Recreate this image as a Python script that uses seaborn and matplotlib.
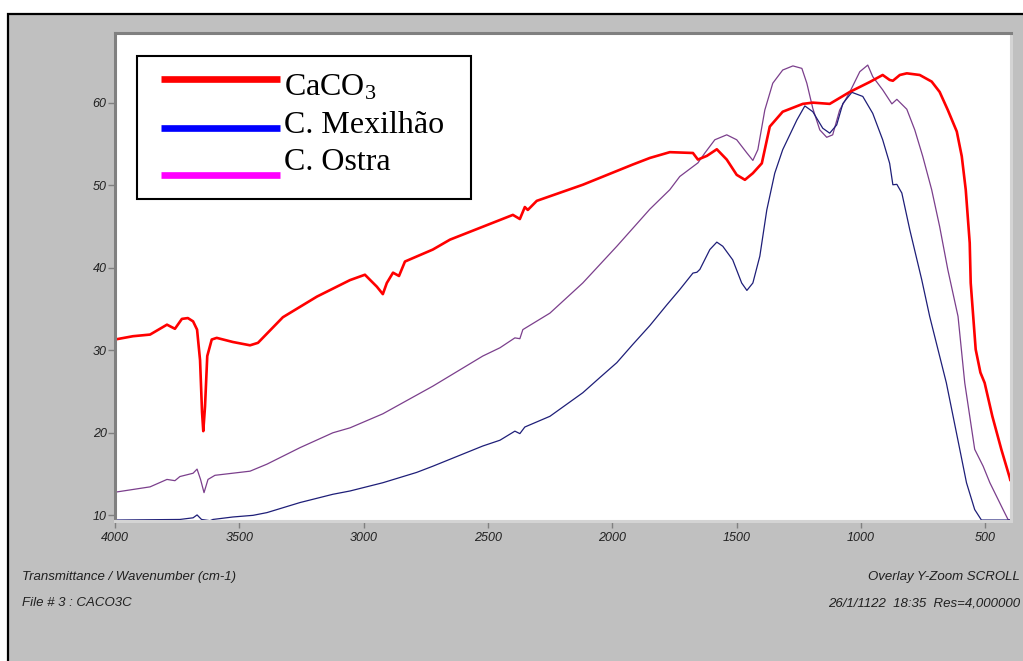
import matplotlib
matplotlib.use('Agg')
import matplotlib.pyplot as plt
import seaborn as sns
import pandas as pd
from matplotlib.lines import Line2D
from matplotlib.patches import Rectangle

# FTIR spectra (wavenumber cm-1, transmittance)
caco3_wn = [4000, 3928, 3859, 3791, 3759, 3731, 3707, 3686, 3670, 3658, 3650, 3645, 3638,
            3629, 3611, 3591, 3526, 3457, 3425, 3325, 3188, 3055, 2995, 2947, 2923, 2907,
            2882, 2858, 2834, 2722, 2653, 2400, 2372, 2352, 2340, 2304, 2119, 1918, 1849,
            1769, 1676, 1656, 1620, 1580, 1540, 1500, 1467, 1435, 1399, 1367, 1315, 1234,
            1194, 1126, 1045, 965, 913, 885, 872, 844, 816, 764, 716, 684, 651, 615, 595,
            579, 563, 559, 539, 520, 503, 472, 436, 402, 400]
caco3_t = [31.3, 31.7, 31.9, 33.1, 32.6, 33.8, 33.9, 33.5, 32.5, 28.8, 22.5, 20.2, 23.2,
           29.3, 31.3, 31.5, 31.0, 30.6, 30.9, 34.0, 36.5, 38.5, 39.15, 37.7, 36.8, 38.15,
           39.4, 39.0, 40.75, 42.2, 43.4, 46.4, 45.9, 47.35, 47.0, 48.1, 50.05, 52.5, 53.3,
           54.0, 53.9, 53.1, 53.55, 54.35, 53.1, 51.25, 50.65, 51.45, 52.65, 57.1, 58.9, 59.85,
           60.0, 59.85, 61.3, 62.5, 63.35, 62.75, 62.65, 63.35, 63.55, 63.35, 62.55, 61.3, 59.1,
           56.5, 53.5, 49.45, 43.0, 38.15, 30.1, 27.3, 26.05, 22.0, 18.0, 14.55, 14.3]

mexilhao_wn = [4000, 3739, 3686, 3670, 3652, 3618, 3606, 3526, 3445, 3389, 3256, 3124, 3055,
               2923, 2787, 2722, 2521, 2452, 2392, 2372, 2352, 2251, 2119, 2050, 1982, 1918,
               1849, 1781, 1729, 1676, 1660, 1648, 1608, 1580, 1556, 1516, 1480, 1459, 1435,
               1407, 1379, 1347, 1315, 1258, 1226, 1194, 1154, 1126, 1098, 1073, 1037, 993,
               953, 913, 885, 872, 856, 836, 804, 756, 724, 657, 603, 576, 543, 516, 400]
mexilhao_t = [9.43, 9.5, 9.7, 10.05, 9.5, 9.35, 9.5, 9.8, 10.0, 10.33, 11.55, 12.55, 12.95,
              13.95, 15.2, 15.95, 18.4, 19.1, 20.2, 19.9, 20.7, 22.0, 24.85, 26.7, 28.5, 30.7,
              33.0, 35.5, 37.35, 39.35, 39.45, 39.8, 42.2, 43.1, 42.6, 40.95, 38.15, 37.25, 38.15,
              41.4, 47.0, 51.45, 54.3, 57.9, 59.6, 58.9, 56.9, 56.3, 57.3, 59.9, 61.25, 60.75,
              58.7, 55.5, 52.65, 50.05, 50.1, 49.05, 44.6, 38.55, 34.1, 26.05, 18.0, 13.95, 10.7,
              9.43, 9.43]

ostra_wn = [4000, 3859, 3791, 3759, 3739, 3686, 3670, 3656, 3642, 3626, 3598, 3457, 3389,
            3256, 3124, 3055, 2923, 2722, 2521, 2452, 2392, 2372, 2360, 2251, 2119, 1982,
            1849, 1769, 1729, 1676, 1656, 1628, 1588, 1540, 1500, 1459, 1435, 1415, 1387,
            1355, 1315, 1274, 1238, 1218, 1194, 1166, 1138, 1114, 1086, 1045, 1005, 973,
            953, 913, 876, 856, 816, 784, 752, 716, 684, 651, 610, 583, 543, 509, 482, 429,
            409, 400]
ostra_t = [12.8, 13.45, 14.35, 14.2, 14.7, 15.1, 15.6, 14.35, 12.75, 14.35, 14.85, 15.35, 16.2,
           18.2, 20.0, 20.6, 22.3, 25.65, 29.3, 30.3, 31.5, 31.4, 32.5, 34.5, 38.15, 42.6,
           47.1, 49.45, 51.05, 52.25, 52.7, 53.9, 55.5, 56.1, 55.5, 53.9, 53.0, 54.3, 59.1,
           62.35, 63.95, 64.45, 64.15, 62.35, 59.3, 56.7, 55.8, 56.1, 59.1, 61.3, 63.75, 64.55,
           63.15, 61.55, 59.85, 60.4, 59.2, 56.7, 53.5, 49.45, 45.0, 39.75, 34.1, 26.05, 18.0,
           15.95, 13.95, 10.7, 9.5, 9.45]

y_ticks = [10, 20, 30, 40, 50, 60]
x_ticks = [4000, 3500, 3000, 2500, 2000, 1500, 1000, 500]

plt.rcParams['mathtext.fontset'] = 'custom'
plt.rcParams['mathtext.rm'] = 'Liberation Serif'
plt.rcParams['mathtext.it'] = 'Liberation Serif:italic'

W, H = 1023, 661
fig = plt.figure(figsize=(W / 100, H / 100), dpi=100, facecolor='white')

# grey panel with black frame
fig.add_artist(Rectangle((8 / W, -0.1), 1.2, 1 - 13.5 / H + 0.1, transform=fig.transFigure,
                         facecolor='#c0c0c0', edgecolor='black', linewidth=1.6, zorder=0))

ax = fig.add_axes([115 / W, 1 - 520.7 / H, 896 / W, 487.4 / H])
ax.set_facecolor('white')

sns.lineplot(x=ostra_wn, y=ostra_t, ax=ax, color='#7b3f8c', linewidth=0.9,
             estimator=None, sort=False)
sns.lineplot(x=mexilhao_wn, y=mexilhao_t, ax=ax, color='#1e1e78', linewidth=0.9,
             estimator=None, sort=False)
sns.lineplot(x=caco3_wn, y=caco3_t, ax=ax, color='#ff0000', linewidth=1.9,
             estimator=None, sort=False)

ax.set_xlim(4000, 397)
ax.set_ylim(9.35, 68.4)
ax.set_xticks(x_ticks)
ax.set_yticks(y_ticks)
ax.set_xticklabels([str(v) for v in x_ticks], fontstyle='italic', family='Liberation Sans', fontsize=9)
ax.set_yticklabels([str(v) for v in y_ticks], fontstyle='italic', family='Liberation Sans', fontsize=9)
ax.tick_params(axis='both', color='#808080', length=5, width=1, labelcolor='#202020')
ax.tick_params(axis='x', pad=3)
ax.tick_params(axis='y', pad=1)
ax.set_xlabel('')
ax.set_ylabel('')
for side in ['top', 'left']:
    ax.spines[side].set_color('#808080')
    ax.spines[side].set_linewidth(2.2)
for side in ['right', 'bottom']:
    ax.spines[side].set_color('#d4d4d4')
    ax.spines[side].set_linewidth(2.2)

# legend box drawn by hand to mimic the original layout
fig.add_artist(Rectangle((137 / W, 1 - 199 / H), 334 / W, 143 / H, transform=fig.transFigure,
                         facecolor='white', edgecolor='black', linewidth=1.5, zorder=5))
leg_items = [('CaCO$_\\mathrm{3}$', '#ff0000', 79.3, 96),
             ('C. Mexilhão', '#0000ff', 127.7, 133),
             ('C. Ostra', '#ff00ff', 175, 170)]
for label, col, ly, ty in leg_items:
    fig.add_artist(Line2D([161 / W, 280 / W], [1 - ly / H, 1 - ly / H], transform=fig.transFigure,
                          color=col, linewidth=4.8, solid_capstyle='butt', zorder=6))
    fig.text(284 / W, 1 - ty / H, label, family='Liberation Serif', fontsize=23,
             va='baseline', ha='left', zorder=6)

foot = dict(fontstyle='italic', family='Liberation Sans', fontsize=9.5, color='#202020', va='center')
fig.text(22 / W, 1 - 577 / H, 'Transmittance / Wavenumber (cm-1)', ha='left', **foot)
fig.text(22 / W, 1 - 603 / H, 'File # 3 : CACO3C', ha='left', **foot)
fig.text(1020 / W, 1 - 577 / H, 'Overlay Y-Zoom SCROLL', ha='right', **foot)
fig.text(1020 / W, 1 - 603 / H, '26/1/1122  18:35  Res=4,000000', ha='right', **foot)

plt.savefig('out.png', dpi=100, facecolor=fig.get_facecolor())
plt.close()
